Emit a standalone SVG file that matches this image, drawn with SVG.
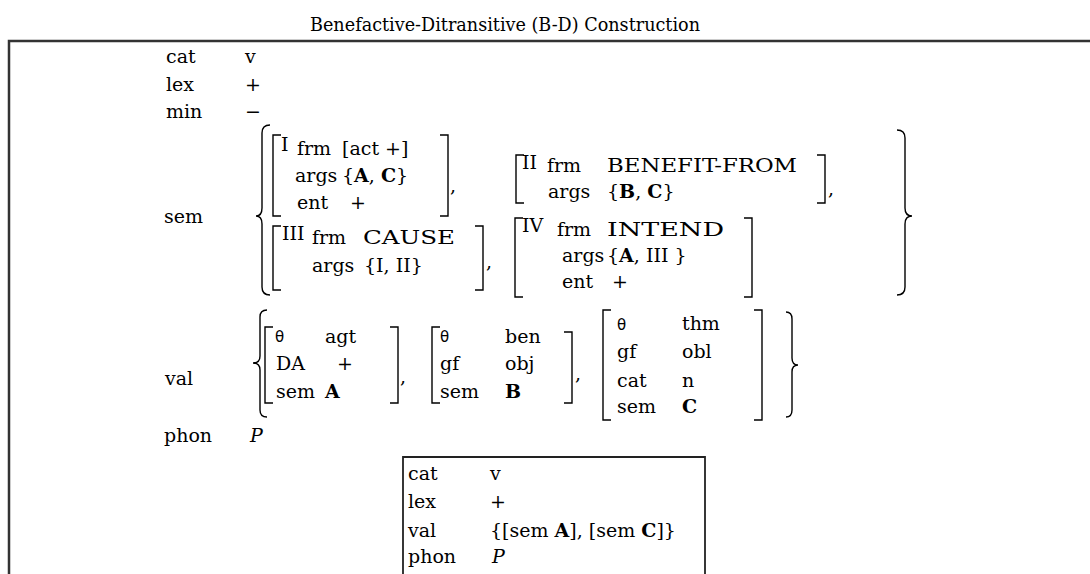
<svg xmlns="http://www.w3.org/2000/svg" width="1090" height="574" viewBox="0 0 1090 574">
<style>
.t{font-family:"DejaVu Serif","Liberation Serif",serif;font-size:19px;fill:#000}
.b{font-weight:bold}
.th{font-family:"DejaVu Sans",sans-serif;font-size:15px;fill:#000}
.it{font-style:italic}
.br{fill:none;stroke:#000;stroke-width:1.4}
.frame{fill:none;stroke:#333;stroke-width:2.5}
.inner{fill:none;stroke:#222;stroke-width:1.8}
</style>
<rect width="1090" height="574" fill="#fff"/>
<g id="title">
<text class="t" x="310" y="31" textLength="390" lengthAdjust="spacingAndGlyphs">Benefactive-Ditransitive (B-D) Construction</text>
</g>
<g id="outer-box">
<path class="frame" d="M9,580 L9,41 L1095,41"/>
</g>
<g id="main-avm">
<text class="t" x="166" y="63">cat</text><text class="t" x="245" y="63">v</text>
<text class="t" x="166" y="91">lex</text><text class="t" x="245" y="91">+</text>
<text class="t" x="166" y="118">min</text><text class="t" x="245" y="118">−</text>
<text class="t" x="164" y="223">sem</text>
<text class="t" x="165" y="385">val</text>
<text class="t" x="164" y="442">phon</text><text class="t it" x="250" y="442">P</text>
</g>
<g id="sem">
<path class="br" d="M270,125 Q262,125 262,133 L262,208 Q262,216 256,216 Q262,216 262,224 L262,287 Q262,295 270,295"/>
<path class="br" d="M897,130 Q905,130 905,138 L905,208 Q905,216 912,216 Q905,216 905,224 L905,287 Q905,295 897,295"/>
<g id="frame-I">
<path class="br" d="M281,135 L273,135 L273,216 L281,216"/>
<path class="br" d="M440,135 L448,135 L448,216 L440,216"/>
<text class="t" x="281" y="151">I</text>
<text class="t" x="297" y="155">frm</text><text class="t" x="342" y="155">[act +]</text>
<text class="t" x="295" y="182">args</text><text class="t" x="342" y="182">{<tspan class="b">A</tspan>, <tspan class="b">C</tspan>}</text>
<text class="t" x="297" y="209">ent</text><text class="t" x="350" y="209">+</text>
<text class="t" x="450" y="192">,</text>
</g>
<g id="frame-II">
<path class="br" d="M524,155 L516,155 L516,203 L524,203"/>
<path class="br" d="M817,155 L825,155 L825,203 L817,203"/>
<text class="t" x="522" y="169">II</text>
<text class="t" x="547" y="172">frm</text><text class="t" x="607" y="172" textLength="190" lengthAdjust="spacingAndGlyphs">BENEFIT-FROM</text>
<text class="t" x="548" y="198">args</text><text class="t" x="607" y="198">{<tspan class="b">B</tspan>, <tspan class="b">C</tspan>}</text>
<text class="t" x="828" y="195">,</text>
</g>
<g id="frame-III">
<path class="br" d="M281,226 L273,226 L273,290 L281,290"/>
<path class="br" d="M475,226 L483,226 L483,290 L475,290"/>
<text class="t" x="282" y="240">III</text>
<text class="t" x="312" y="244">frm</text><text class="t" x="363" y="244" textLength="92" lengthAdjust="spacingAndGlyphs">CAUSE</text>
<text class="t" x="312" y="272">args</text><text class="t" x="364" y="272">{I, II}</text>
<text class="t" x="486" y="268">,</text>
</g>
<g id="frame-IV">
<path class="br" d="M523,218 L515,218 L515,297 L523,297"/>
<path class="br" d="M744,218 L752,218 L752,297 L744,297"/>
<text class="t" x="522" y="232">IV</text>
<text class="t" x="557" y="236">frm</text><text class="t" x="607" y="236" textLength="117" lengthAdjust="spacingAndGlyphs">INTEND</text>
<text class="t" x="562" y="262">args</text><text class="t" x="607" y="262">{<tspan class="b">A</tspan>, III }</text>
<text class="t" x="562" y="288">ent</text><text class="t" x="612" y="288">+</text>
</g>
</g>
<g id="val">
<path class="br" d="M267,310 Q260,310 260,317 L260,356 Q260,363 253,363 Q260,363 260,370 L260,410 Q260,417 267,417"/>
<path class="br" d="M786,312 Q792,312 792,319 L792,358 Q792,365 798,365 Q792,365 792,372 L792,410 Q792,417 786,417"/>
<g id="val-agt">
<path class="br" d="M273,327 L265,327 L265,403 L273,403"/>
<path class="br" d="M390,327 L398,327 L398,403 L390,403"/>
<text class="th" x="275" y="342">θ</text><text class="t" x="325" y="343">agt</text>
<text class="t" x="276" y="370">DA</text><text class="t" x="337" y="370">+</text>
<text class="t" x="276" y="398">sem</text><text class="t b" x="325" y="398">A</text>
<text class="t" x="400" y="383">,</text>
</g>
<g id="val-ben">
<path class="br" d="M440,327 L432,327 L432,403 L440,403"/>
<path class="br" d="M564,332 L572,332 L572,403 L564,403"/>
<text class="th" x="440" y="342">θ</text><text class="t" x="505" y="343">ben</text>
<text class="t" x="440" y="370">gf</text><text class="t" x="505" y="370">obj</text>
<text class="t" x="440" y="398">sem</text><text class="t b" x="505" y="398">B</text>
<text class="t" x="575" y="380">,</text>
</g>
<g id="val-thm">
<path class="br" d="M611,310 L603,310 L603,420 L611,420"/>
<path class="br" d="M754,310 L762,310 L762,420 L754,420"/>
<text class="th" x="617" y="330">θ</text><text class="t" x="682" y="330">thm</text>
<text class="t" x="617" y="358">gf</text><text class="t" x="682" y="358">obl</text>
<text class="t" x="617" y="387">cat</text><text class="t" x="682" y="387">n</text>
<text class="t" x="617" y="413">sem</text><text class="t b" x="682" y="413">C</text>
</g>
</g>
<g id="inner-box">
<path class="inner" d="M403,580 L403,457 L705,457 L705,580"/>
<text class="t" x="408" y="480">cat</text><text class="t" x="490" y="480">v</text>
<text class="t" x="408" y="508">lex</text><text class="t" x="490" y="508">+</text>
<text class="t" x="408" y="537">val</text><text class="t" x="490" y="537">{[sem <tspan class="b">A</tspan>], [sem <tspan class="b">C</tspan>]}</text>
<text class="t" x="408" y="563">phon</text><text class="t it" x="492" y="563">P</text>
</g>
</svg>
